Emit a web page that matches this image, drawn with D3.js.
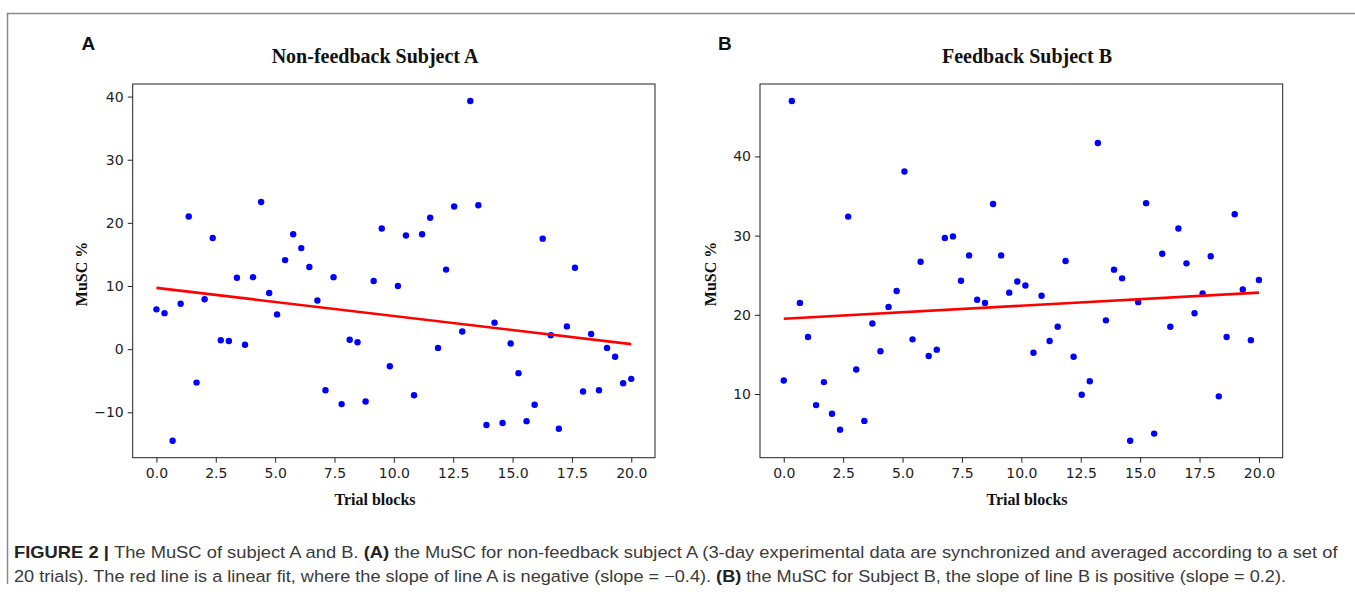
<!DOCTYPE html>
<html>
<head>
<meta charset="utf-8">
<script src="https://cdn.jsdelivr.net/npm/d3@7"></script>
<style>
  body { margin: 0; background: #fff; }
</style>
</head>
<body>
<script>
// trial block positions (same 60 blocks for both subjects)
var trialBlocks = [0.00, 0.34, 0.68, 1.02, 1.36, 1.69, 2.03, 2.37, 2.71, 3.05,
    3.39, 3.73, 4.07, 4.41, 4.75, 5.08, 5.42, 5.76, 6.10, 6.44,
    6.78, 7.12, 7.46, 7.80, 8.14, 8.47, 8.81, 9.15, 9.49, 9.83,
    10.17, 10.51, 10.85, 11.19, 11.53, 11.86, 12.20, 12.54, 12.88, 13.22,
    13.56, 13.90, 14.24, 14.58, 14.92, 15.25, 15.59, 15.93, 16.27, 16.61,
    16.95, 17.29, 17.63, 17.97, 18.31, 18.64, 18.98, 19.32, 19.66, 20.00];

// MuSC % for subject A (non-feedback)
var muscA = [6.3, 5.7, -14.5, 7.2, 21.0, -5.3, 7.9, 17.6, 1.4, 1.3,
    11.3, 0.7, 11.4, 23.3, 8.9, 5.5, 14.1, 18.2, 16.0, 13.0,
    7.7, -6.5, 11.4, -8.7, 1.5, 1.1, -8.3, 10.8, 19.1, -2.7,
    10.0, 18.0, -7.3, 18.2, 20.8, 0.2, 12.6, 22.6, 2.8, 39.3,
    22.8, -12.0, 4.2, -11.7, 0.9, -3.8, -11.4, -8.8, 17.5, 2.2,
    -12.6, 3.6, 12.9, -6.7, 2.4, -6.5, 0.2, -1.2, -5.4, -4.7];

// MuSC % for subject B (feedback)
var muscB = [11.7, 47.0, 21.5, 17.2, 8.6, 11.5, 7.5, 5.5, 32.4, 13.1,
    6.6, 18.9, 15.4, 21.0, 23.0, 38.1, 16.9, 26.7, 14.8, 15.6,
    29.7, 29.9, 24.3, 27.5, 21.9, 21.5, 34.0, 27.5, 22.8, 24.2,
    23.7, 15.2, 22.4, 16.7, 18.5, 26.8, 14.7, 9.9, 11.6, 41.7,
    19.3, 25.7, 24.6, 4.1, 21.6, 34.1, 5.0, 27.7, 18.5, 30.9,
    26.5, 20.2, 22.7, 27.4, 9.7, 17.2, 32.7, 23.2, 16.8, 24.4];

// linear fit values at the first and last trial block
var fitA = [9.7, 0.8];
var fitB = [19.5, 22.8];

var xTicks = [0, 2.5, 5, 7.5, 10, 12.5, 15, 17.5, 20];
var yTicksA = [-10, 0, 10, 20, 30, 40];
var yTicksB = [10, 20, 30, 40];

var svg = d3.select('body').append('svg')
    .attr("width", 1355)
    .attr("height", 592);

// figure frame (top and left rule)
svg.append("path")
    .attr("d", "M1355,13.5H7.5V584")
    .attr("fill", "none")
    .attr("stroke", "#8a8a8a")
    .attr("stroke-width", 1.5);

function padDomain(vals){
    var lo = d3.min(vals), hi = d3.max(vals);
    var pad = (hi - lo) * 0.05;
    return [lo - pad, hi + pad];
}

function createScatterPlot(cfg){
    var left = cfg.left, top = 84, w = cfg.width, h = 373.7;

    var graph = svg.append('g')
        .attr("transform", "translate(" + left + "," + top + ")");

    var x = d3.scaleLinear()
        .domain(padDomain(trialBlocks))
        .range([0, w]);

    var y = d3.scaleLinear()
        .domain(padDomain(cfg.values))
        .range([h, 0]);

    var xAxis = d3.axisBottom(x).tickValues(xTicks).tickFormat(d3.format(".1f"))
        .tickSize(5).tickPadding(5);
    var yAxis = d3.axisLeft(y).tickValues(cfg.yTicks)
        .tickSize(5).tickPadding(4);

    var xg = graph.append('g').attr("transform", "translate(0," + h + ")").call(xAxis);
    var yg = graph.append('g').call(yAxis);

    [xg, yg].forEach(function(g){
        g.select(".domain").remove();
        g.selectAll(".tick line").attr("stroke", "#222").attr("stroke-width", 1);
        g.selectAll(".tick text")
            .attr("fill", "#222")
            .attr("font-family", "DejaVu Sans, sans-serif")
            .attr("font-size", "14px");
    });

    graph.append("rect")
        .attr("width", w)
        .attr("height", h)
        .attr("fill", "none")
        .attr("stroke", "#222")
        .attr("stroke-width", 1);

    graph.selectAll("circle")
        .data(cfg.values)
        .enter()
        .append("circle")
        .attr("fill", "#0000ff")
        .attr("cx", function(d, i) { return x(trialBlocks[i]); })
        .attr("cy", function(d) { return y(d); })
        .attr("r", 3.2);

    graph.append("line")
        .attr("x1", x(trialBlocks[0]))
        .attr("y1", y(cfg.fit[0]))
        .attr("x2", x(trialBlocks[trialBlocks.length - 1]))
        .attr("y2", y(cfg.fit[1]))
        .attr("stroke", "#ff0000")
        .attr("stroke-width", 2.6);

    // panel letter
    svg.append("text")
        .attr("x", cfg.letterX)
        .attr("y", 50)
        .attr("font-family", "Liberation Sans, Arial, sans-serif")
        .attr("font-weight", "bold")
        .attr("font-size", "19px")
        .attr("fill", "#111")
        .text(cfg.letter);

    svg.append("text")
        .attr("x", cfg.labelX)
        .attr("y", 63)
        .attr("text-anchor", "middle")
        .attr("font-family", "Liberation Serif, Times New Roman, serif")
        .attr("font-weight", "bold")
        .attr("font-size", "20px")
        .attr("fill", "#111")
        .text(cfg.title);

    svg.append("text")
        .attr("x", cfg.labelX)
        .attr("y", 505)
        .attr("text-anchor", "middle")
        .attr("font-family", "Liberation Serif, Times New Roman, serif")
        .attr("font-weight", "bold")
        .attr("font-size", "16px")
        .attr("fill", "#111")
        .text("Trial blocks");

    svg.append("text")
        .attr("transform", "translate(" + cfg.yLabelX + ",274)rotate(-90)")
        .attr("dy", "0.35em")
        .attr("text-anchor", "middle")
        .attr("font-family", "Liberation Serif, Times New Roman, serif")
        .attr("font-weight", "bold")
        .attr("font-size", "16px")
        .attr("fill", "#111")
        .text("MuSC %");
}

createScatterPlot({left: 132.7, width: 522.3, values: muscA, fit: fitA, yTicks: yTicksA,
    letter: "A", letterX: 81.5, title: "Non-feedback Subject A", labelX: 375, yLabelX: 81});
createScatterPlot({left: 760, width: 522.7, values: muscB, fit: fitB, yTicks: yTicksB,
    letter: "B", letterX: 718, title: "Feedback Subject B", labelX: 1027, yLabelX: 710});

// caption
var captionLines = [
    [["FIGURE 2 | ", true], ["The MuSC of subject A and B. ", false], ["(A)", true],
     [" the MuSC for non-feedback subject A (3-day experimental data are synchronized and averaged according to a set of", false]],
    [["20 trials). The red line is a linear fit, where the slope of line A is negative (slope = \u22120.4). ", false],
     ["(B)", true], [" the MuSC for Subject B, the slope of line B is positive (slope = 0.2).", false]]
];
var captionY = [557.5, 582];
var captionEnd = [1339, 1287];

captionLines.forEach(function(parts, k){
    var t = svg.append("text")
        .attr("x", 0)
        .attr("y", 0)
        .attr("font-family", "Liberation Sans, Arial, sans-serif")
        .attr("font-size", "16.5px")
        .attr("fill", "#3a3a3a")
        .style("white-space", "pre");
    parts.forEach(function(p){
        t.append("tspan")
            .attr("font-weight", p[1] ? "bold" : "normal")
            .attr("fill", p[1] ? "#222" : "#3a3a3a")
            .text(p[0]);
    });
    var len = t.node().getComputedTextLength();
    var sx = (captionEnd[k] - 14) / len;
    t.attr("transform", "translate(14," + captionY[k] + ")scale(" + sx + ",1)");
});
</script>
</body>
</html>
